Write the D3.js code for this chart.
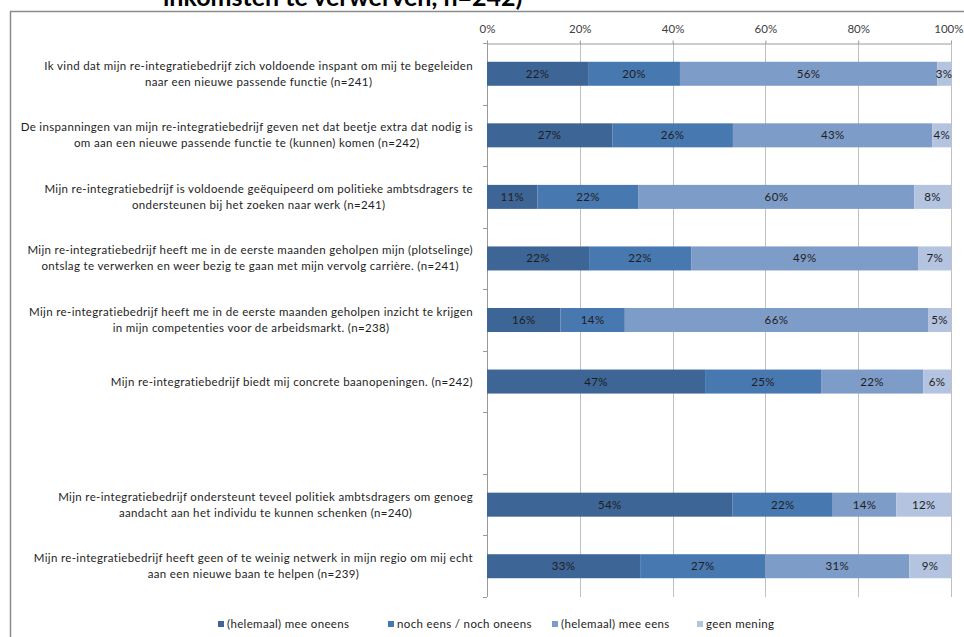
<!DOCTYPE html>
<html>
<head>
<meta charset="utf-8">
<script src="https://cdn.jsdelivr.net/npm/d3@7"></script>
<style>
  body { margin: 0; background: #fff; }
  svg { display: block; }
  text { font-family: Lato, "Open Sans", sans-serif; }
</style>
</head>
<body>
<div class="chart"></div>
<script>
// categories (top to bottom), one empty slot before the last two
var categories = [
  ["Ik vind dat mijn re-integratiebedrijf zich voldoende inspant om mij te begeleiden", "naar een nieuwe passende functie (n=241)"],
  ["De inspanningen van mijn re-integratiebedrijf geven net dat beetje extra dat nodig is", "om aan een nieuwe passende functie te (kunnen) komen (n=242)"],
  ["Mijn re-integratiebedrijf is voldoende geëquipeerd om politieke ambtsdragers te", "ondersteunen bij het zoeken naar werk (n=241)"],
  ["Mijn re-integratiebedrijf heeft me in de eerste maanden geholpen mijn (plotselinge)", "ontslag te verwerken en weer bezig te gaan met mijn vervolg carrière. (n=241)"],
  ["Mijn re-integratiebedrijf heeft me in de eerste maanden geholpen inzicht te krijgen", "in mijn competenties voor de arbeidsmarkt. (n=238)"],
  ["Mijn re-integratiebedrijf biedt mij concrete baanopeningen. (n=242)"],
  [],
  ["Mijn re-integratiebedrijf ondersteunt teveel politiek ambtsdragers om genoeg", "aandacht aan het individu te kunnen schenken (n=240)"],
  ["Mijn re-integratiebedrijf heeft geen of te weinig netwerk in mijn regio om mij echt", "aan een nieuwe baan te helpen (n=239)"]
];

var seriesNames = ["(helemaal) mee oneens", "noch eens / noch oneens", "(helemaal) mee eens", "geen mening"];

// percentages per category, null = empty slot
var meeOneens  = [22, 27, 11, 22, 16, 47, null, 54, 33];
var neutraal   = [20, 26, 22, 22, 14, 25, null, 22, 27];
var meeEens    = [56, 43, 60, 49, 66, 22, null, 14, 31];
var geenMening = [3, 4, 8, 7, 5, 6, null, 12, 9];

var tickValues = [0, 0.2, 0.4, 0.6, 0.8, 1];

var colors = ["#3d6595", "#4878b0", "#7e9cc8", "#b3c3e0"];

var W = 964, H = 637;
var fs = 11.5, ls = "0.35px";

var svg = d3.select("div.chart")
  .append("svg")
  .attr("width", W)
  .attr("height", H);

// title, cut off at the top like the original
svg.append("text")
  .attr("x", 163)
  .attr("y", 6)
  .attr("font-family", "Liberation Sans, Arial, sans-serif")
  .attr("font-weight", "bold")
  .attr("font-size", 25)
  .attr("fill", "#000")
  .text("inkomsten te verwerven, n=242)");

// chart frame
svg.append("rect")
  .attr("x", 10.5)
  .attr("y", 11.5)
  .attr("width", 1000)
  .attr("height", 700)
  .attr("fill", "none")
  .attr("stroke", "#8c8c8c")
  .attr("stroke-width", 1.5);

var rows = categories.map(function(c, i){
  return {
    id: "c" + i,
    lines: c,
    values: [meeOneens[i], neutraal[i], meeEens[i], geenMening[i]]
  };
});

var x = d3.scaleLinear()
  .domain([0, 1])
  .range([487, 951]);

var y = d3.scaleBand()
  .domain(rows.map(function(d){ return d.id; }))
  .range([43, 597])
  .paddingInner(0.61)
  .paddingOuter(0.305);

// gridlines
svg.append("g")
  .selectAll("line")
  .data(tickValues.slice(1))
  .enter()
  .append("line")
  .attr("x1", function(d){ return Math.round(x(d)) + 0.5; })
  .attr("x2", function(d){ return Math.round(x(d)) + 0.5; })
  .attr("y1", 43)
  .attr("y2", 597)
  .attr("stroke", "#c0c0c0");

// top axis
var xAxis = svg.append("g")
  .attr("transform", "translate(0,43.5)")
  .call(d3.axisTop(x)
    .tickValues(tickValues)
    .tickFormat(d3.format(".0%"))
    .tickSizeInner(3)
    .tickSizeOuter(0));
xAxis.select(".domain").attr("stroke", "#9a9a9a");
xAxis.selectAll(".tick line").attr("stroke", "#9a9a9a");
xAxis.selectAll(".tick text")
  .attr("font-family", "Lato, sans-serif")
  .attr("font-size", fs)
  .attr("fill", "#404040")
  .attr("y", -11);
// keep "100%" inside the page edge
xAxis.selectAll(".tick text")
  .filter(function(d){ return d === 1; })
  .attr("text-anchor", "end")
  .attr("x", 12);

// left axis with ticks between categories
var yLeft = svg.append("g");
yLeft.append("line")
  .attr("x1", 487.5).attr("x2", 487.5)
  .attr("y1", 43).attr("y2", 597)
  .attr("stroke", "#9a9a9a");
yLeft.selectAll(".ytick")
  .data(d3.range(rows.length + 1))
  .enter()
  .append("line")
  .attr("x1", 483)
  .attr("x2", 487)
  .attr("y1", function(i){ return Math.round(y.range()[0] + i * y.step()) + 0.5; })
  .attr("y2", function(i){ return Math.round(y.range()[0] + i * y.step()) + 0.5; })
  .attr("stroke", "#9a9a9a");

// stacked 100% bars
var barRows = rows.filter(function(d){ return d.values[0] !== null; });
var stackInput = barRows.map(function(d){
  var o = {id: d.id};
  seriesNames.forEach(function(s, k){ o[s] = d.values[k]; });
  return o;
});
var stacked = d3.stack()
  .keys(seriesNames)
  .offset(d3.stackOffsetExpand)(stackInput);

var layers = svg.append("g")
  .selectAll("g")
  .data(stacked)
  .enter()
  .append("g")
  .attr("fill", function(d, i){ return colors[i]; });

layers.selectAll("rect")
  .data(function(d){ return d; })
  .enter()
  .append("rect")
  .attr("x", function(d){ return x(d[0]); })
  .attr("width", function(d){ return x(d[1]) - x(d[0]); })
  .attr("y", function(d){ return y(d.data.id); })
  .attr("height", y.bandwidth());

// value labels
stacked.forEach(function(layer){
  svg.append("g")
    .selectAll("text")
    .data(layer)
    .enter()
    .append("text")
    .attr("x", function(d){ return (x(d[0]) + x(d[1])) / 2; })
    .attr("y", function(d){ return y(d.data.id) + y.bandwidth() / 2; })
    .attr("dy", "0.35em")
    .attr("text-anchor", "middle")
    .attr("font-size", fs)
    .attr("letter-spacing", ls)
    .attr("fill", "#1e1e1e")
    .text(function(d){ return d.data[layer.key] + "%"; });
});

// category labels: centred lines, block right-aligned
var labelRight = 473;
rows.forEach(function(r){
  if(!r.lines.length) return;
  var g = svg.append("g");
  var texts = r.lines.map(function(line, k){
    return g.append("text")
      .attr("y", y(r.id) + y.bandwidth() / 2 + (k - (r.lines.length - 1) / 2) * 16)
      .attr("dy", "0.35em")
      .attr("text-anchor", "middle")
      .attr("font-size", fs)
      .attr("letter-spacing", ls)
      .attr("fill", "#1e1e1e")
      .text(line);
  });
  var maxW = d3.max(texts, function(t){ return t.node().getComputedTextLength(); });
  texts.forEach(function(t){ t.attr("x", labelRight - maxW / 2); });
});

// legend
var legendX = [218, 388, 552, 697];
var legend = svg.append("g")
  .selectAll("g")
  .data(seriesNames)
  .enter()
  .append("g")
  .attr("transform", function(d, i){ return "translate(" + legendX[i] + ",621)"; });
legend.append("rect")
  .attr("width", 6)
  .attr("height", 6)
  .attr("fill", function(d, i){ return colors[i]; });
legend.append("text")
  .attr("x", 9)
  .attr("y", 3)
  .attr("dy", "0.35em")
  .attr("font-size", fs)
  .attr("letter-spacing", ls)
  .attr("fill", "#1e1e1e")
  .text(function(d){ return d; });
</script>
</body>
</html>
